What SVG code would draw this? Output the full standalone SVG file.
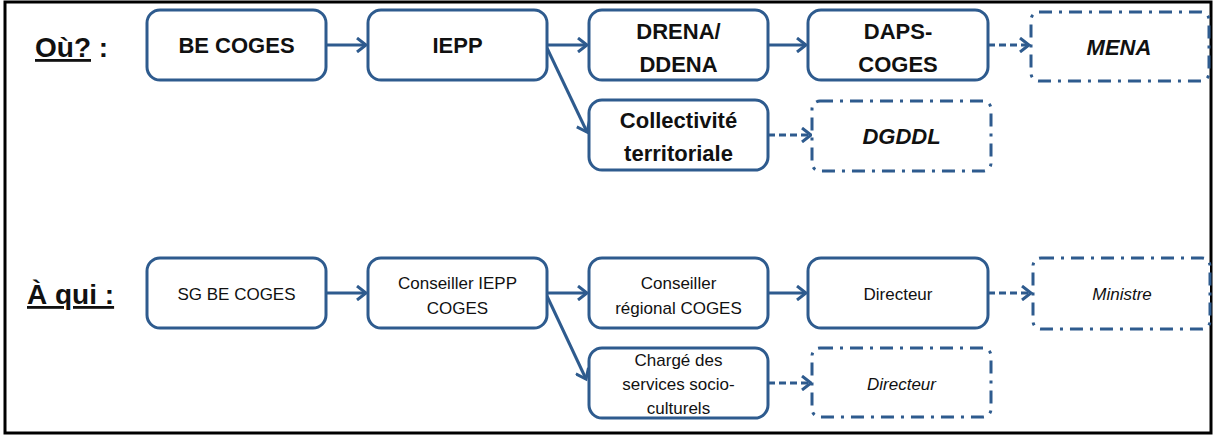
<svg xmlns="http://www.w3.org/2000/svg" width="1215" height="436" viewBox="0 0 1215 436">
<style>
.box{fill:#fff;stroke:#2e5b8e;stroke-width:3}
.dbox{fill:#fff;stroke:#2e5b8e;stroke-width:3;stroke-dasharray:13 7 3 7}
.t1{font-family:"Liberation Sans",Arial,sans-serif;font-weight:bold;font-size:22px;fill:#111;text-anchor:middle}
.t1i{font-family:"Liberation Sans",Arial,sans-serif;font-weight:bold;font-style:italic;font-size:22px;fill:#111;text-anchor:middle}
.t2{font-family:"Liberation Sans",Arial,sans-serif;font-size:17px;fill:#111;text-anchor:middle}
.t2i{font-family:"Liberation Sans",Arial,sans-serif;font-style:italic;font-size:17px;fill:#111;text-anchor:middle}
.lab{font-family:"Liberation Sans",Arial,sans-serif;font-weight:bold;font-size:28px;fill:#111}
.c{fill:none;stroke:#2e5b8e;stroke-width:3}
.cd{fill:none;stroke:#2e5b8e;stroke-width:3;stroke-dasharray:7 4}
</style>
<defs>
<marker id="ah" markerUnits="userSpaceOnUse" markerWidth="14" markerHeight="16" refX="11" refY="8" orient="auto">
<path d="M2,1 L11,8 L2,15" fill="none" stroke="#2e5b8e" stroke-width="3"/>
</marker>
</defs>
<rect x="5" y="2" width="1206" height="431" fill="#fff" stroke="#000" stroke-width="3"/>

<g id="labels">
<text class="lab" x="35" y="57"><tspan text-decoration="underline">Où?</tspan> :</text>
<text class="lab" x="27" y="304" text-decoration="underline">À qui :</text>
</g>

<g id="connectors">
<line class="c" x1="327" y1="45" x2="366" y2="45" marker-end="url(#ah)"/>
<line class="c" x1="547" y1="45" x2="587" y2="45" marker-end="url(#ah)"/>
<line class="c" x1="547" y1="48" x2="587" y2="132" marker-end="url(#ah)"/>
<line class="c" x1="768" y1="45" x2="806" y2="45" marker-end="url(#ah)"/>
<line class="cd" x1="988" y1="45" x2="1029" y2="45" marker-end="url(#ah)"/>
<line class="cd" x1="768" y1="135" x2="811" y2="135" marker-end="url(#ah)"/>
<line class="c" x1="327" y1="293" x2="366" y2="293" marker-end="url(#ah)"/>
<line class="c" x1="547" y1="293" x2="587" y2="293" marker-end="url(#ah)"/>
<line class="c" x1="547" y1="296" x2="586" y2="379" marker-end="url(#ah)"/>
<line class="c" x1="768" y1="293" x2="806" y2="293" marker-end="url(#ah)"/>
<line class="cd" x1="988" y1="293" x2="1031" y2="293" marker-end="url(#ah)"/>
<line class="cd" x1="768" y1="383" x2="811" y2="383" marker-end="url(#ah)"/>
</g>

<g id="n-be-coges"><rect class="box" x="147" y="10" width="179" height="70" rx="13"/><text class="t1" x="236.5" y="53">BE COGES</text></g>
<g id="n-iepp"><rect class="box" x="368" y="10" width="179" height="70" rx="13"/><text class="t1" x="457.5" y="53">IEPP</text></g>
<g id="n-drena"><rect class="box" x="589" y="10" width="179" height="70" rx="13"/><text class="t1" x="678.5" y="39">DRENA/</text><text class="t1" x="678.5" y="72">DDENA</text></g>
<g id="n-daps"><rect class="box" x="808" y="10" width="180" height="70" rx="13"/><text class="t1" x="898" y="39">DAPS-</text><text class="t1" x="898" y="72">COGES</text></g>
<g id="n-mena"><rect class="dbox" x="1031" y="12" width="178" height="69" rx="8"/><text class="t1i" x="1119" y="55">MENA</text></g>
<g id="n-collectivite"><rect class="box" x="589" y="100" width="179" height="70" rx="13"/><text class="t1" x="678.5" y="128">Collectivité</text><text class="t1" x="678.5" y="161">territoriale</text></g>
<g id="n-dgddl"><rect class="dbox" x="812" y="101" width="179" height="70" rx="8"/><text class="t1i" x="901.5" y="144">DGDDL</text></g>

<g id="n-sg"><rect class="box" x="147" y="258" width="179" height="70" rx="13"/><text class="t2" x="236.5" y="300">SG BE COGES</text></g>
<g id="n-conseiller-iepp"><rect class="box" x="368" y="258" width="179" height="70" rx="13"/><text class="t2" x="457.5" y="289">Conseiller IEPP</text><text class="t2" x="457.5" y="314">COGES</text></g>
<g id="n-conseiller-reg"><rect class="box" x="589" y="258" width="179" height="70" rx="13"/><text class="t2" x="678.5" y="289">Conseiller</text><text class="t2" x="678.5" y="314">régional COGES</text></g>
<g id="n-directeur"><rect class="box" x="808" y="258" width="180" height="70" rx="13"/><text class="t2" x="898" y="300">Directeur</text></g>
<g id="n-ministre"><rect class="dbox" x="1033" y="258" width="177" height="71" rx="8"/><text class="t2i" x="1122" y="300">Ministre</text></g>
<g id="n-charge"><rect class="box" x="589" y="348" width="179" height="70" rx="13"/><text class="t2" x="678.5" y="366">Chargé des</text><text class="t2" x="678.5" y="390">services socio-</text><text class="t2" x="678.5" y="414">culturels</text></g>
<g id="n-directeur2"><rect class="dbox" x="812" y="348" width="179" height="69" rx="8"/><text class="t2i" x="901.5" y="390">Directeur</text></g>
</svg>
